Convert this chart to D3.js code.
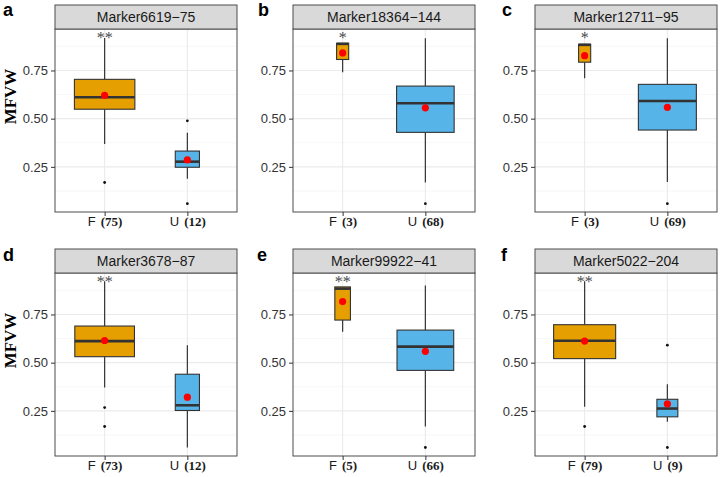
<!DOCTYPE html>
<html><head><meta charset="utf-8">
<script src="https://cdn.jsdelivr.net/npm/d3@7"></script>
<style>body{margin:0;background:#fff}</style>
</head><body>
<svg id="c" width="720" height="477" xmlns="http://www.w3.org/2000/svg"></svg>
<script>
// ---------------- data ----------------
const markers = ["Marker6619−75","Marker18364−144","Marker12711−95","Marker3678−87","Marker99922−41","Marker5022−204"];
const panelTags = ["a","b","c","d","e","f"];
const groups = ["F","U"];
const nF = [75,3,3,73,5,79];
const nU = [12,68,69,12,66,9];
// [lower whisker, Q1, median, Q3, upper whisker]
const statsF = [
  [0.369,0.549,0.611,0.704,0.918],
  [0.741,0.807,0.888,0.891,0.891],
  [0.710,0.793,0.883,0.886,0.886],
  [0.371,0.531,0.612,0.690,0.922],
  [0.660,0.721,0.884,0.893,0.893],
  [0.271,0.521,0.614,0.697,0.922]
];
const statsU = [
  [0.188,0.248,0.277,0.332,0.427],
  [0.169,0.429,0.580,0.669,0.917],
  [0.171,0.441,0.592,0.678,0.917],
  [0.060,0.252,0.279,0.440,0.590],
  [0.169,0.460,0.583,0.669,0.900],
  [0.193,0.219,0.262,0.310,0.388]
];
const meanF = [0.621,0.841,0.827,0.615,0.817,0.612];
const meanU = [0.286,0.556,0.559,0.321,0.559,0.286];
const outF = [[0.169],[],[],[0.267,0.169],[],[0.169]];
const outU = [[0.489,0.059],[0.059],[0.059],[],[0.060],[0.591,0.060]];
const stars = ["**","*","*","**","**","**"];
const starLevel = 0.93;
const yTicks = [0.25,0.50,0.75];
const yMinor = [0.125,0.375,0.625,0.875];
const yTitle = "MFVW";

// ---------------- layout ----------------
const colLeft = [55, 293, 535];
const stripTop = [5, 249];
const tagPos = [[3,16],[258,16],[502,16],[3,261],[257,261],[501,261]];
const stripH = 24, panelW = 182, panelH = 183;
const fillF = "#E69F00", fillU = "#56B4E9";
const dark = "#333333";

const svg = d3.select("#c");

const allVals = [].concat(...statsF, ...statsU, ...outF, ...outU, meanF, meanU);
const vMin = d3.min(allVals), vMax = d3.max(allVals);
const pad = (vMax - vMin) * 0.05;
const maxN = d3.max(nF.concat(nU));

markers.forEach((m, i) => {
  const col = i % 3, row = Math.floor(i / 3);
  const left = colLeft[col];
  const top = stripTop[row] + stripH;
  const g = svg.append("g");

  const x = d3.scalePoint().domain(groups).range([left, left + panelW]).padding(0.6);
  const y = d3.scaleLinear().domain([vMin - pad, vMax + pad]).range([top + panelH, top]);

  g.append("rect").attr("x", left).attr("y", top).attr("width", panelW).attr("height", panelH).attr("fill", "#fff");
  g.selectAll(".mn").data(yMinor).join("line")
    .attr("x1", left).attr("x2", left + panelW)
    .attr("y1", d => y(d)).attr("y2", d => y(d))
    .attr("stroke", "#F2F2F2").attr("stroke-width", 0.6);
  g.selectAll(".mj").data(yTicks).join("line")
    .attr("x1", left).attr("x2", left + panelW)
    .attr("y1", d => y(d)).attr("y2", d => y(d))
    .attr("stroke", "#EBEBEB").attr("stroke-width", 1.1);
  g.selectAll(".mx").data(groups).join("line")
    .attr("x1", d => x(d)).attr("x2", d => x(d))
    .attr("y1", top).attr("y2", top + panelH)
    .attr("stroke", "#EBEBEB").attr("stroke-width", 1.1);

  const boxes = [
    {grp: "F", s: statsF[i], mean: meanF[i], out: outF[i], n: nF[i], fill: fillF},
    {grp: "U", s: statsU[i], mean: meanU[i], out: outU[i], n: nU[i], fill: fillU}
  ];
  boxes.forEach(b => {
    const cx = x(b.grp);
    const bw = 0.75 * Math.sqrt(b.n / maxN) * x.step();
    g.append("line").attr("x1", cx).attr("x2", cx).attr("y1", y(b.s[3])).attr("y2", y(b.s[4]))
      .attr("stroke", dark).attr("stroke-width", 1.2);
    g.append("line").attr("x1", cx).attr("x2", cx).attr("y1", y(b.s[1])).attr("y2", y(b.s[0]))
      .attr("stroke", dark).attr("stroke-width", 1.2);
    g.append("rect").attr("x", cx - bw / 2).attr("width", bw)
      .attr("y", y(b.s[3])).attr("height", y(b.s[1]) - y(b.s[3]))
      .attr("fill", b.fill).attr("stroke", dark).attr("stroke-width", 1.1);
    g.append("line").attr("x1", cx - bw / 2).attr("x2", cx + bw / 2)
      .attr("y1", y(b.s[2])).attr("y2", y(b.s[2]))
      .attr("stroke", dark).attr("stroke-width", 2.6);
    g.selectAll(null).data(b.out).join("circle")
      .attr("cx", cx).attr("cy", d => y(d)).attr("r", 1.4).attr("fill", "#111");
    g.append("circle").attr("cx", cx).attr("cy", y(b.mean)).attr("r", 3.6).attr("fill", "#FF0000");
  });

  g.append("text").attr("x", x("F")).attr("y", y(starLevel) + 7.5)
    .attr("text-anchor", "middle").attr("font-family", "Liberation Serif, Times New Roman, serif")
    .attr("font-size", 16).attr("fill", "#4a4a4a").text(stars[i]);

  g.append("rect").attr("x", left).attr("y", top).attr("width", panelW).attr("height", panelH)
    .attr("fill", "none").attr("stroke", "#4d4d4d").attr("stroke-width", 1);
  g.append("rect").attr("x", left).attr("y", stripTop[row]).attr("width", panelW).attr("height", stripH)
    .attr("fill", "#D9D9D9").attr("stroke", "#4d4d4d").attr("stroke-width", 1);
  g.append("text").attr("x", left + panelW / 2).attr("y", stripTop[row] + stripH / 2 + 5)
    .attr("text-anchor", "middle").attr("font-family", "Liberation Sans, Arial, sans-serif")
    .attr("font-size", 14).attr("fill", "#1a1a1a").text(m);

  const ya = g.append("g").attr("transform", `translate(${left},0)`)
    .call(d3.axisLeft(y).tickValues(yTicks).tickFormat(d3.format(".2f")).tickSize(4).tickPadding(3));
  ya.select(".domain").remove();
  ya.selectAll(".tick line").attr("stroke", dark);
  ya.selectAll(".tick text").attr("font-family", "Liberation Sans, Arial, sans-serif")
    .attr("font-size", 13).attr("fill", "#333");

  const counts = [nF[i], nU[i]];
  const xa = g.append("g").attr("transform", `translate(0,${top + panelH})`)
    .call(d3.axisBottom(x).tickSize(4).tickPadding(3));
  xa.select(".domain").remove();
  xa.selectAll(".tick line").attr("stroke", dark);
  xa.selectAll(".tick text").each(function(d, k) {
    const t = d3.select(this);
    t.text(null).attr("fill", "#1a1a1a");
    t.append("tspan").attr("font-family", "Liberation Sans, Arial, sans-serif").attr("font-size", 13).text(d);
    t.append("tspan").attr("dx", 5).attr("font-family", "Liberation Serif, Times New Roman, serif")
      .attr("font-weight", "bold").attr("font-size", 13).text(`(${counts[k]})`);
  });

  if (col === 0) {
    g.append("text").attr("transform", `translate(16,${top + panelH / 2 - 24}) rotate(-90)`)
      .attr("text-anchor", "middle").attr("font-family", "Liberation Serif, Times New Roman, serif")
      .attr("font-weight", "bold").attr("font-size", 17).attr("fill", "#000").text(yTitle);
  }

  svg.append("text").attr("x", tagPos[i][0]).attr("y", tagPos[i][1])
    .attr("font-family", "Liberation Sans, Arial, sans-serif").attr("font-weight", "bold")
    .attr("font-size", 18).attr("fill", "#000").text(panelTags[i]);
});
</script>
</body></html>
